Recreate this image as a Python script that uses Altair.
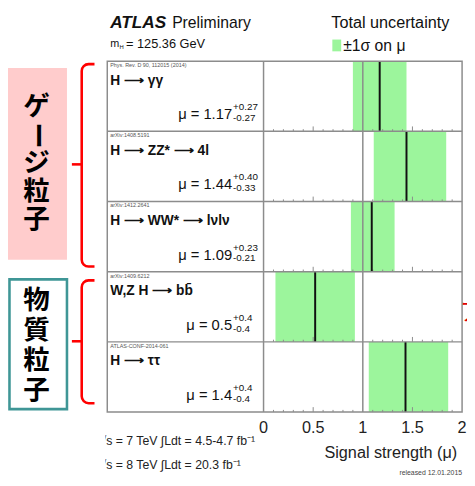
import altair as alt
import pandas as pd

# ---------------- data ----------------
channels = ["H ⟶ γγ", "H ⟶ ZZ* ⟶ 4l", "H ⟶ WW* ⟶ lνlν", "W,Z H ⟶ bb\u0304", "H ⟶ ττ"]
refs = ["Phys. Rev. D 90, 112015 (2014)", "arXiv:1408.5191", "arXiv:1412.2641",
        "arXiv:1409.6212", "ATLAS-CONF-2014-061"]
mu = [1.17, 1.44, 1.09, 0.52, 1.43]
err_up = [0.27, 0.40, 0.23, 0.40, 0.43]
err_dn = [0.27, 0.33, 0.21, 0.40, 0.37]
mu_text = ["1.17", "1.44", "1.09", "0.5", "1.4"]
up_text = ["+0.27", "+0.40", "+0.23", "+0.4", "+0.4"]
dn_text = ["-0.27", "-0.33", "-0.21", "-0.4", "-0.4"]
x_ticks = [0, 0.5, 1, 1.5, 2]
tick_labels = ["0", "0.5", "1", "1.5", "2"]
gauge_chars = ["ゲ", "ー", "ジ", "粒", "子"]
matter_chars = ["物", "質", "粒", "子"]

# ---------------- layout ----------------
W, H = 467, 470
X0, PXU = 260.0, 101.0     # pixel of mu=0, pixels per unit of mu
Y0, RH = 50.0, 71.4        # pixel of top of first row, row height


def ux(px):
    return (px - X0) / PXU


def uy(py):
    return (py - Y0) / RH


xs = alt.Scale(domain=[ux(0), ux(W)], range=[0, W], zero=False, nice=False)
ys = alt.Scale(domain=[uy(0), uy(H)], range=[0, H], zero=False, nice=False)


def X(f):
    return alt.X(f, type="quantitative", scale=xs, axis=None)


def Y(f):
    return alt.Y(f, type="quantitative", scale=ys, axis=None)


FONT = "Liberation Sans"
JP = "Noto Sans CJK JP"
GREEN = "#9cf59c"
FRAME = "#8c8c8c"
one = pd.DataFrame({"k": [0]})


def deco():
    return alt.Chart(one)


def vtext(x, y, s, **kw):
    kw.setdefault("font", FONT)
    kw.setdefault("baseline", "middle")
    kw.setdefault("align", "left")
    kw.setdefault("color", "#111")
    return deco().mark_text(text=s, **kw).encode(x=alt.value(x), y=alt.value(y))


n = len(channels)
rows = pd.DataFrame({
    "row": list(range(n)),
    "row2": [i + 1 for i in range(n)],
    "channel": channels,
    "ref": refs,
    "mu": mu,
    "lo": [m - d for m, d in zip(mu, err_dn)],
    "hi": [m + u for m, u in zip(mu, err_up)],
    "mutext": ["μ = " + t for t in mu_text],
    "up": up_text,
    "dn": dn_text,
})

layers = []

# ---- Japanese side labels ----
layers.append(deco().mark_rect(color="#ffcccc").encode(
    x=alt.value(0), x2=alt.value(60), y=alt.value(57), y2=alt.value(252)))
layers.append(deco().mark_rect(fill="white", stroke="#3f9696", strokeWidth=2.6).encode(
    x=alt.value(1.5), x2=alt.value(60), y=alt.value(272), y2=alt.value(404)))

g_df = pd.DataFrame({"ch": gauge_chars,
                     "yy": [uy(97 + 28.7 * i) for i in range(len(gauge_chars))]})
m_df = pd.DataFrame({"ch": matter_chars,
                     "yy": [uy(294 + 30.7 * i) for i in range(len(matter_chars))]})
jp_kw = dict(font=JP, fontWeight="bold", fontSize=27, color="#000",
             align="center", baseline="middle")
layers.append(alt.Chart(g_df).transform_filter("datum.ch != 'ー'").mark_text(**jp_kw).encode(
    x=alt.value(29), y=Y("yy"), text="ch:N"))
layers.append(alt.Chart(g_df).transform_filter("datum.ch == 'ー'").mark_text(angle=90, **jp_kw).encode(
    x=alt.value(29), y=Y("yy"), text="ch:N"))
layers.append(alt.Chart(m_df).mark_text(**jp_kw).encode(
    x=alt.value(29), y=Y("yy"), text="ch:N"))

# ---- red braces ----
for top, bot, mid in [(53, 259, 155), (273, 398, 335)]:
    layers.append(deco().mark_rect(fillOpacity=0, stroke="#ff0000", strokeWidth=2.6,
                                   cornerRadius=7).encode(
        x=alt.value(75), x2=alt.value(100), y=alt.value(top), y2=alt.value(bot)))
    layers.append(deco().mark_rect(color="white").encode(
        x=alt.value(88), x2=alt.value(101), y=alt.value(top - 4), y2=alt.value(bot + 4)))
    layers.append(deco().mark_rule(color="#ff0000", strokeWidth=2.6).encode(
        x=alt.value(65), x2=alt.value(75), y=alt.value(mid)))

# ---- bands ----
layers.append(alt.Chart(rows).mark_rect(color=GREEN).encode(
    x=X("lo"), x2="hi", y=Y("row"), y2="row2"))

# ---- vertical reference lines at mu=0 and mu=1 ----
vl = pd.DataFrame({"x": [0, 1], "y": [0, 0], "y2": [n, n], "c": [FRAME, "#8a8a8a"]})
layers.append(alt.Chart(vl).mark_rule(strokeWidth=1.5).encode(
    x=X("x"), y=Y("y"), y2="y2", color=alt.Color("c:N", scale=None)))

# ---- ticks on each row boundary ----
minor = [round(0.1 * i, 1) for i in range(1, 20) if i % 5 != 0]
major = [0.5, 1.5]
tk = []
for b in range(1, n + 1):
    for t in minor:
        tk.append({"x": t, "y": b, "y2": b - 2.2 / RH})
    for t in major:
        tk.append({"x": t, "y": b, "y2": b - 5.0 / RH})
layers.append(alt.Chart(pd.DataFrame(tk)).mark_rule(color=FRAME, strokeWidth=1).encode(
    x=X("x"), y=Y("y"), y2="y2"))

# ---- central values ----
layers.append(alt.Chart(rows).mark_rule(color="#111", strokeWidth=2).encode(
    x=X("mu"), y=Y("row"), y2="row2"))

# ---- frame and row separators ----
xl, xr = ux(101), 2.0
layers.append(alt.Chart(pd.DataFrame({"x": [xl], "x2": [xr], "y": [0], "y2": [n]}))
              .mark_rect(fillOpacity=0, stroke=FRAME, strokeWidth=1.5).encode(
    x=X("x"), x2="x2", y=Y("y"), y2="y2"))
layers.append(alt.Chart(pd.DataFrame({"x": [xl] * (n - 1), "x2": [xr] * (n - 1),
                                      "y": list(range(1, n))}))
              .mark_rule(color=FRAME, strokeWidth=1.5).encode(
    x=X("x"), x2="x2", y=Y("y")))

# ---- row texts ----
layers.append(alt.Chart(rows).mark_text(font=FONT, fontSize=5.5, color="#555", align="left",
                                        baseline="middle", dy=4).encode(
    x=alt.value(104), y=Y("row"), text="ref:N"))
layers.append(alt.Chart(rows).mark_text(font=FONT, fontSize=14, fontWeight="bold", color="#111",
                                        align="left", baseline="middle", dy=20).encode(
    x=alt.value(104), y=Y("row"), text="channel:N"))
layers.append(alt.Chart(rows).mark_text(font=FONT, fontSize=15, color="#111", align="right",
                                        baseline="middle", dy=54).encode(
    x=alt.value(228), y=Y("row"), text="mutext:N"))
layers.append(alt.Chart(rows).mark_text(font=FONT, fontSize=10, color="#111", align="left",
                                        baseline="middle", dy=47).encode(
    x=alt.value(229), y=Y("row"), text="up:N"))
layers.append(alt.Chart(rows).mark_text(font=FONT, fontSize=10, color="#111", align="left",
                                        baseline="middle", dy=58).encode(
    x=alt.value(229), y=Y("row"), text="dn:N"))

# ---- x tick labels ----
tl = pd.DataFrame({"x": x_ticks, "lab": tick_labels})
layers.append(alt.Chart(tl).mark_text(font=FONT, fontSize=16.5, color="#222", align="center",
                                      baseline="middle").encode(
    x=X("x"), y=alt.value(423), text="lab:N"))

# ---- header ----
layers.append(vtext(104, 11, "ATLAS", fontSize=17.5, fontWeight="bold", fontStyle="italic"))
layers.append(vtext(167, 11, "Preliminary", fontSize=16))
layers.append(vtext(104, 33, "m", fontSize=11))
layers.append(vtext(113.5, 36, "H", fontSize=6))
layers.append(vtext(120, 33, "= 125.36 GeV", fontSize=13))
layers.append(vtext(329, 11, "Total uncertainty", fontSize=16.5))
layers.append(deco().mark_rect(color=GREEN).encode(
    x=alt.value(330), x2=alt.value(339), y=alt.value(28), y2=alt.value(40)))
layers.append(vtext(341, 35, "±1σ on μ", fontSize=16))

# ---- footer ----
layers.append(vtext(457, 449, "Signal strength (μ)", fontSize=16.5, align="right", color="#222"))
layers.append(vtext(93, 437, "√s = 7 TeV ∫Ldt = 4.5-4.7 fb⁻¹", fontSize=12.5, color="#222"))
layers.append(vtext(93, 461, "√s = 8 TeV ∫Ldt = 20.3 fb⁻¹", fontSize=12.5, color="#222"))
layers.append(deco().mark_rect(color="white").encode(
    x=alt.value(0), x2=alt.value(99), y=alt.value(425), y2=alt.value(H)))
layers.append(vtext(462, 469, "released 12.01.2015", fontSize=7, align="right", color="#444"))

# ---- partial red glyph at the right edge ----
layers.append(vtext(460, 306, "ア", font=JP, fontSize=24, color="#e00000"))

chart = alt.layer(*layers).properties(
    width=W, height=H, autosize=alt.AutoSizeParams(type="none"), padding=0
).configure_view(stroke=None)

chart.save("out.html", embed_options={"renderer": "svg", "actions": False})
